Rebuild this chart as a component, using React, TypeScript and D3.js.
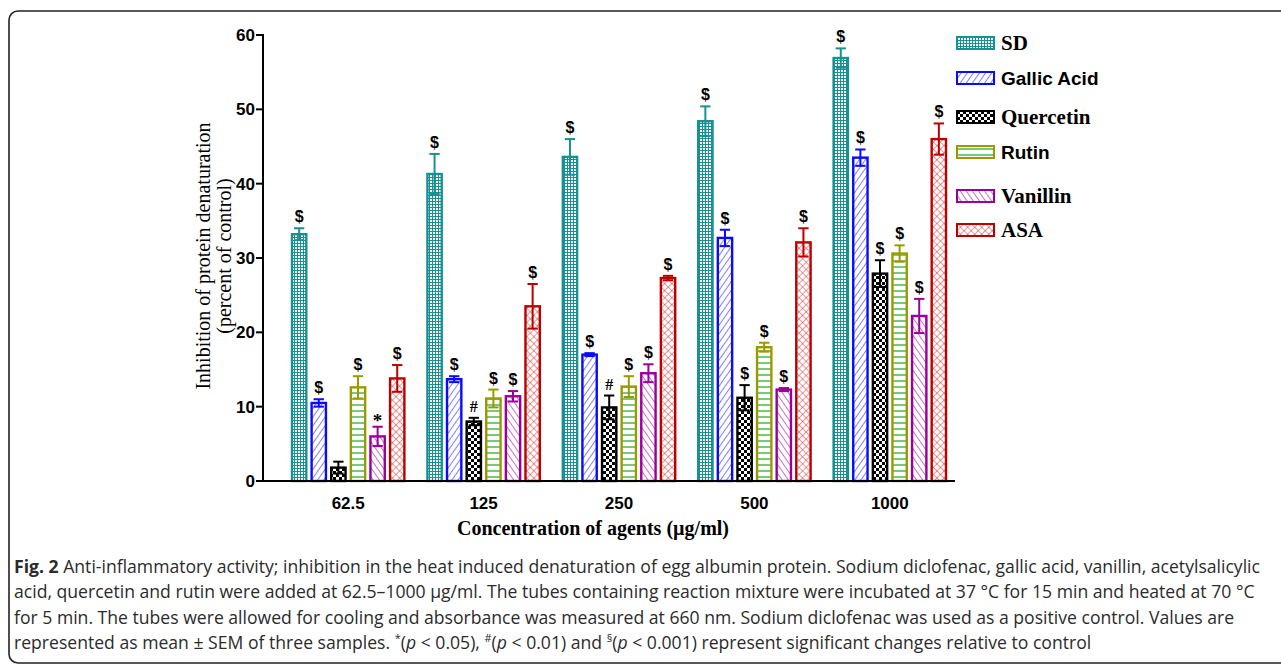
import * as d3 from "d3";

const concs = ["62.5", "125", "250", "500", "1000"];
const series = ["SD", "Gallic Acid", "Quercetin", "Rutin", "Vanillin", "ASA"];

// mean values per series, in order of concs
const sdVals = [33.2, 41.3, 43.6, 48.4, 56.9];
const gallicVals = [10.5, 13.7, 17.0, 32.7, 43.5];
const quercetinVals = [1.8, 8.0, 9.9, 11.2, 27.9];
const rutinVals = [12.6, 11.1, 12.7, 18.0, 30.6];
const vanillinVals = [6.0, 11.4, 14.5, 12.3, 22.2];
const asaVals = [13.8, 23.5, 27.3, 32.1, 46.0];

// SEM
const sdErr = [0.8, 2.7, 2.4, 2.0, 1.3];
const gallicErr = [0.5, 0.4, 0.2, 1.1, 1.1];
const quercetinErr = [0.8, 0.5, 1.6, 1.7, 1.8];
const rutinErr = [1.5, 1.2, 1.4, 0.6, 1.1];
const vanillinErr = [1.3, 0.7, 1.2, 0.2, 2.3];
const asaErr = [1.8, 3.0, 0.3, 1.9, 2.1];

// significance marks
const sdSig = ["$", "$", "$", "$", "$"];
const gallicSig = ["$", "$", "$", "$", "$"];
const quercetinSig = ["", "#", "#", "$", "$"];
const rutinSig = ["$", "$", "$", "$", "$"];
const vanillinSig = ["*", "$", "$", "$", "$"];
const asaSig = ["$", "$", "$", "$", "$"];

const values = [sdVals, gallicVals, quercetinVals, rutinVals, vanillinVals, asaVals];
const errors = [sdErr, gallicErr, quercetinErr, rutinErr, vanillinErr, asaErr];
const marks = [sdSig, gallicSig, quercetinSig, rutinSig, vanillinSig, asaSig];

const strokeColors = ["#179191", "#0a0aff", "#000000", "#9a9a00", "#990099", "#bb0000"];
const patternIds = ["pSD", "pGallic", "pQuer", "pRutin", "pVan", "pASA"];
const legendSerif = [true, false, true, false, true, true];

const captionLines = [
  "Anti-inflammatory activity; inhibition in the heat induced denaturation of egg albumin protein. Sodium diclofenac, gallic acid, vanillin, acetylsalicylic",
  "acid, quercetin and rutin were added at 62.5–1000 µg/ml. The tubes containing reaction mixture were incubated at 37 °C for 15 min and heated at 70 °C",
  "for 5 min. The tubes were allowed for cooling and absorbance was measured at 660 nm. Sodium diclofenac was used as a positive control. Values are",
];

const W = 1281;
const H = 666;
const margin = { left: 263, right: 955, top: 35, bottom: 481 };

const App = () => {
  const x0 = d3
    .scaleBand()
    .domain(concs)
    .range([margin.left + 29, margin.right - 9])
    .paddingInner(0.17)
    .paddingOuter(0);
  const x1 = d3.scaleBand().domain(series).range([0, x0.bandwidth()]).paddingInner(0.27);
  const y = d3.scaleLinear().domain([0, 60]).range([margin.bottom, margin.top]);

  const serif = "'Liberation Serif', 'Times New Roman', serif";
  const sans = "'Liberation Sans', Arial, sans-serif";
  const capFont = "'Open Sans', 'Noto Sans', sans-serif";

  const bw = x1.bandwidth();
  const capW = bw * 0.72;

  return (
    <svg width={W} height={H} style={{ position: "absolute", left: 0, top: 0, background: "#fff" }}>
      <defs>
        <pattern id="pSD" width={3} height={3} patternUnits="userSpaceOnUse">
          <rect width={3} height={3} fill="#fff" />
          <rect width={3} height={1} fill="#179191" />
          <rect width={1} height={3} fill="#179191" />
        </pattern>
        <pattern id="pGallic" width={5} height={5} patternUnits="userSpaceOnUse" patternTransform="rotate(35)">
          <rect width={5} height={5} fill="#fff" />
          <line x1={0} y1={0} x2={0} y2={5} stroke="#3a3aff" strokeWidth={1.3} />
        </pattern>
        <pattern id="pQuer" width={6} height={6} patternUnits="userSpaceOnUse">
          <rect width={6} height={6} fill="#fff" />
          <rect width={3} height={3} fill="#000" />
          <rect x={3} y={3} width={3} height={3} fill="#000" />
        </pattern>
        <pattern id="pRutin" width={6} height={6} patternUnits="userSpaceOnUse">
          <rect width={6} height={6} fill="#fff" />
          <line x1={0} y1={3} x2={6} y2={3} stroke="#3cb43c" strokeWidth={1.4} />
        </pattern>
        <pattern id="pVan" width={5} height={5} patternUnits="userSpaceOnUse" patternTransform="rotate(-35)">
          <rect width={5} height={5} fill="#fff" />
          <line x1={0} y1={0} x2={0} y2={5} stroke="#aa22aa" strokeWidth={1.3} />
        </pattern>
        <pattern id="pASA" width={5} height={5} patternUnits="userSpaceOnUse" patternTransform="rotate(45)">
          <rect width={5} height={5} fill="#fff" />
          <line x1={0} y1={0} x2={0} y2={5} stroke="#e03030" strokeWidth={1} />
          <line x1={0} y1={0} x2={5} y2={0} stroke="#e03030" strokeWidth={1} />
        </pattern>
      </defs>

      {/* frame */}
      <rect x={9} y={11} width={1400} height={652} rx={9} fill="none" stroke="#222" strokeWidth={1.6} />

      {/* bars */}
      {series.map((s, si) => (
        <g key={s}>
          {concs.map((c, ci) => {
            const v = values[si][ci];
            const e = errors[si][ci];
            const bx = x0(c)! + x1(s)!;
            const cx = bx + bw / 2;
            const color = strokeColors[si];
            const m = marks[si][ci];
            return (
              <g key={c}>
                <rect
                  x={bx}
                  y={y(v)}
                  width={bw}
                  height={y(0) - y(v)}
                  fill={`url(#${patternIds[si]})`}
                  stroke={color}
                  strokeWidth={2.4}
                />
                <line x1={cx} x2={cx} y1={y(v + e)} y2={y(v - e)} stroke={color} strokeWidth={2} />
                <line x1={cx - capW / 2} x2={cx + capW / 2} y1={y(v + e)} y2={y(v + e)} stroke={color} strokeWidth={2} />
                <line x1={cx - capW / 2} x2={cx + capW / 2} y1={y(v - e)} y2={y(v - e)} stroke={color} strokeWidth={2} />
                {m && (
                  <text
                    x={cx}
                    y={y(v + e) - 6}
                    textAnchor="middle"
                    fontFamily={m === "$" ? sans : serif}
                    fontWeight="bold"
                    fontSize={m === "*" ? 19 : 16}
                    fill="#000"
                    dy={m === "*" ? 6 : 0}
                  >
                    {m}
                  </text>
                )}
              </g>
            );
          })}
        </g>
      ))}

      {/* y axis */}
      <line x1={margin.left} x2={margin.left} y1={y(60) - 1} y2={y(0) + 1} stroke="#000" strokeWidth={2} />
      {y.ticks(6).map((t) => (
        <g key={t}>
          <line x1={margin.left - 7} x2={margin.left} y1={y(t)} y2={y(t)} stroke="#000" strokeWidth={2} />
          <text
            x={margin.left - 8}
            y={y(t)}
            dy="0.36em"
            textAnchor="end"
            fontFamily={sans}
            fontWeight="bold"
            fontSize={17}
          >
            {t}
          </text>
        </g>
      ))}

      {/* x axis */}
      <line x1={margin.left - 1} x2={margin.right} y1={y(0)} y2={y(0)} stroke="#000" strokeWidth={2} />
      {concs.map((c) => (
        <text
          key={c}
          x={x0(c)! + x0.bandwidth() / 2}
          y={y(0) + 28}
          textAnchor="middle"
          fontFamily={sans}
          fontWeight="bold"
          fontSize={17}
        >
          {c}
        </text>
      ))}

      <text x={593} y={535} textAnchor="middle" fontFamily={serif} fontWeight="bold" fontSize={20}>
        Concentration of agents (µg/ml)
      </text>

      <g transform="translate(210,256) rotate(-90)">
        <text x={0} y={0} textAnchor="middle" fontFamily={serif} fontSize={20}>
          Inhibition of protein denaturation
        </text>
        <text x={0} y={21} textAnchor="middle" fontFamily={serif} fontSize={20}>
          (percent of control)
        </text>
      </g>

      {/* legend */}
      {series.map((s, si) => {
        const ly = [43, 78, 117, 152, 196, 230][si];
        return (
          <g key={s} transform={`translate(957,${ly})`}>
            <rect
              x={0}
              y={-6}
              width={37}
              height={12}
              fill={`url(#${patternIds[si]})`}
              stroke={strokeColors[si]}
              strokeWidth={2}
            />
            <text
              x={44}
              y={0}
              dy="0.35em"
              fontFamily={legendSerif[si] ? serif : sans}
              fontWeight="bold"
              fontSize={legendSerif[si] ? 21 : 19}
            >
              {s}
            </text>
          </g>
        );
      })}

      {/* caption */}
      <g fontFamily={capFont} fontSize={17.6} fill="#2b2b2b">
        <text x={14} y={573}>
          <tspan fontWeight="bold">Fig. 2</tspan> {captionLines[0]}
        </text>
        <text x={14} y={598}>{captionLines[1]}</text>
        <text x={14} y={624}>{captionLines[2]}</text>
        <text x={14} y={649}>
          represented as mean ± SEM of three samples. <tspan fontSize={11} dy={-7}>*</tspan>
          <tspan dy={7}>(</tspan>
          <tspan fontStyle="italic">p</tspan> {"< 0.05), "}
          <tspan fontSize={11} dy={-7}>#</tspan>
          <tspan dy={7}>(</tspan>
          <tspan fontStyle="italic">p</tspan> {"< 0.01) and "}
          <tspan fontSize={11} dy={-7}>§</tspan>
          <tspan dy={7}>(</tspan>
          <tspan fontStyle="italic">p</tspan> {"< 0.001) represent significant changes relative to control"}
        </text>
      </g>
    </svg>
  );
};

export default App;
